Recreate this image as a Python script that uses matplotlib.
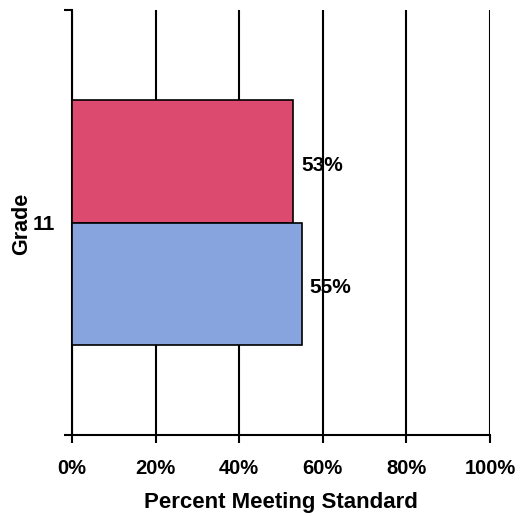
import matplotlib
matplotlib.use("Agg")
from matplotlib import pyplot as plt
from matplotlib.ticker import FixedLocator

grade = "11"
series_values = [53, 55]
series_colors = ["#DC4A70", "#88A4DE"]
value_labels = ["53%", "55%"]
x_ticks = [0, 20, 40, 60, 80, 100]
x_tick_labels = ["0%", "20%", "40%", "60%", "80%", "100%"]

plt.rcParams['font.family'] = ['Liberation Sans', 'DejaVu Sans']
plt.rcParams['font.weight'] = 'bold'

fig = plt.figure(figsize=(5.21, 5.16), dpi=100)
ax = fig.add_axes([0.138, 0.157, 0.8025, 0.8235])

bar_h = 0.288
offsets = [bar_h / 2, -bar_h / 2]
for val, col, off, lab in zip(series_values, series_colors, offsets, value_labels):
    ax.barh(off, val, height=bar_h, color=col, edgecolor='black', linewidth=1.2, zorder=3)
    ax.text(val + 1.8, off - 0.01, lab, fontsize=15, fontweight='bold', va='center', ha='left', zorder=4)

ax.set_xlim(0, 100)
ax.set_ylim(-0.5, 0.5)
ax.set_xticks(x_ticks)
ax.set_xticklabels(x_tick_labels, fontsize=14.5, fontweight='bold')
ax.set_yticks([0])
ax.set_yticklabels([grade], fontsize=15, fontweight='bold')
ax.yaxis.set_minor_locator(FixedLocator([-0.5, 0.5]))
ax.tick_params(axis='y', which='major', length=0, pad=12)
ax.tick_params(axis='y', which='minor', length=6, width=1.5, direction='out')
ax.tick_params(axis='x', length=6, width=1.5, direction='out', pad=11)

ax.grid(axis='x', color='black', linewidth=1.5, zorder=1)
ax.set_axisbelow(True)
for s in ['top', 'right']:
    ax.spines[s].set_visible(False)
for s in ['left', 'bottom']:
    ax.spines[s].set_linewidth(1.5)

ax.set_xlabel("Percent Meeting Standard", fontsize=16, fontweight='bold', va='center')
ax.xaxis.set_label_coords(0.5, -0.158)
ax.set_ylabel("Grade", fontsize=15.5, fontweight='bold', va='center')
ax.yaxis.set_label_coords(-0.12, 0.496)

fig.savefig("out.png", dpi=100)
